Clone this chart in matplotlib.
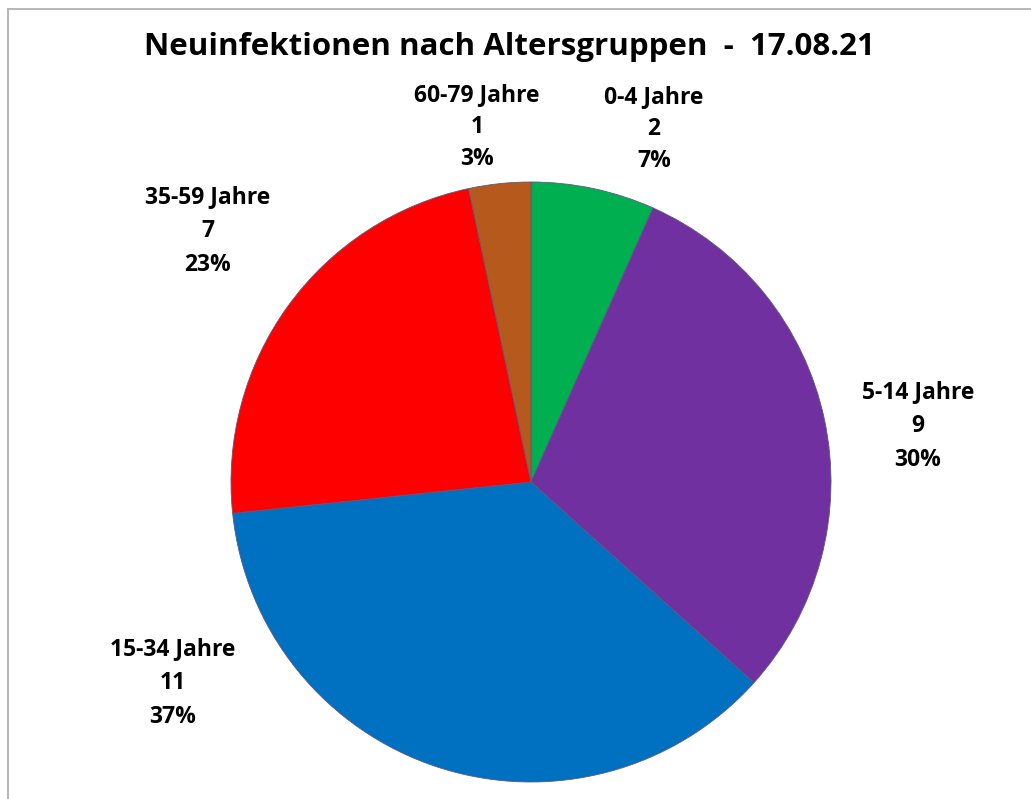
import matplotlib.pyplot as plt
from matplotlib.lines import Line2D

# data: age groups, new infections 17.08.21
groups = ['0-4 Jahre', '5-14 Jahre', '15-34 Jahre', '35-59 Jahre', '60-79 Jahre']
cases = [2, 9, 11, 7, 1]
colors = ['#00B050', '#7030A0', '#0070C0', '#FF0000', '#B55A1C']

# label anchor points in units of pie radius (layout only)
label_pos = [(0.41, 1.177), (1.29, 0.187), (-1.193, -0.67), (-1.077, 0.837), (-0.18, 1.183)]

plt.rcParams['font.family'] = ['Open Sans', 'DejaVu Sans']

W, H = 1031, 799
fig = plt.figure(figsize=(W / 100, H / 100), dpi=100)

# pie centre (531, 482) px, radius 300 px
cx, cy, r = 531, 482, 300
ax = fig.add_axes([(cx - r) / W, (H - cy - r) / H, 2 * r / W, 2 * r / H])
ax.pie(cases, colors=colors, startangle=90, counterclock=False, radius=1,
       wedgeprops=dict(edgecolor='#5a5a80', linewidth=0.6))
ax.set_xlim(-1, 1)
ax.set_ylim(-1, 1)
ax.set_aspect('equal')
ax.axis('off')

total = sum(cases)
for i, (g, v, (x, y)) in enumerate(zip(groups, cases, label_pos)):
    txt = f'{g}\n{v}\n{round(100 * v / total)}%'
    ls = 1.45 if y > 1 else 1.55
    ax.text(x, y, txt, ha='center', va='center', fontsize=16.5, fontweight='bold',
            linespacing=ls, color='#000000')

fig.text(509 / W, 1 - 47 / H, 'Neuinfektionen nach Altersgruppen  -  17.08.21',
         ha='center', va='center', fontsize=22.5, fontweight='bold')

# thin grey frame (left and top edges visible)
fig.add_artist(Line2D([7.5 / W, 7.5 / W], [0, 1 - 8.5 / H], color='#B0B0B0', lw=1.3,
                      transform=fig.transFigure))
fig.add_artist(Line2D([7.5 / W, 1], [1 - 8.5 / H, 1 - 8.5 / H], color='#B0B0B0', lw=1.3,
                      transform=fig.transFigure))

fig.savefig('out.png', dpi=100)
